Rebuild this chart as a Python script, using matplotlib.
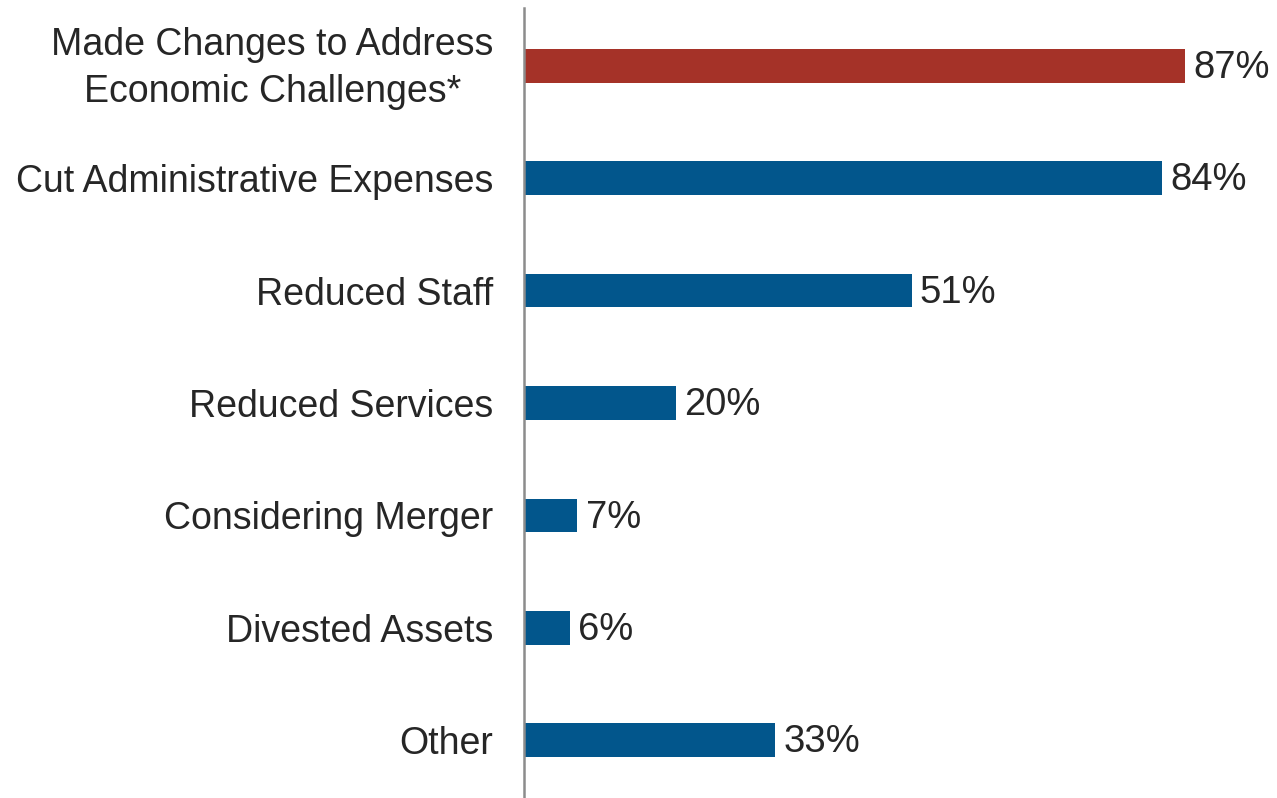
"""Bar chart of changes made to address economic challenges"""
import matplotlib.pyplot as plt
from matplotlib.transforms import ScaledTranslation

categories = ["Made Changes to Address\nEconomic Challenges*",
              "Cut Administrative Expenses",
              "Reduced Staff",
              "Reduced Services",
              "Considering Merger",
              "Divested Assets",
              "Other"]
values = [87, 84, 51, 20, 7, 6, 33]
colors = ["#A53228"] + ["#02568C"] * 6

plt.rcParams['font.family'] = ['Liberation Sans', 'DejaVu Sans']

fig = plt.figure(figsize=(12.77, 7.98), dpi=100)
ax = fig.add_axes([524 / 1277, 0, 1 - 524 / 1277, 790 / 798])

pos = list(range(len(categories)))
ax.barh(pos, values, height=0.3, color=colors)
for p, v in zip(pos, values):
    ax.text(v + 1.1, p + 0.02, f"{v}%", va="center", ha="left",
            fontsize=27.5, color="#262626")

ax.set_yticks(pos)
ax.set_yticklabels(categories, fontsize=27, color="#262626",
                   linespacing=1.4)
ax.tick_params(axis="y", length=0, pad=22)
# two-line label is centred and sits a bit high in the original
first = ax.get_yticklabels()[0]
first.set_multialignment("center")
first.set_transform(first.get_transform()
                    + ScaledTranslation(0, 7 / 100, fig.dpi_scale_trans))
ax.set_xticks([])
ax.set_xlim(0, 99.1)
ax.set_ylim(6.515, -0.515)
for side in ["top", "right", "bottom"]:
    ax.spines[side].set_visible(False)
ax.spines["left"].set_color("#8C8C8C")
ax.spines["left"].set_linewidth(1.8)

fig.savefig("out.png", dpi=100)
